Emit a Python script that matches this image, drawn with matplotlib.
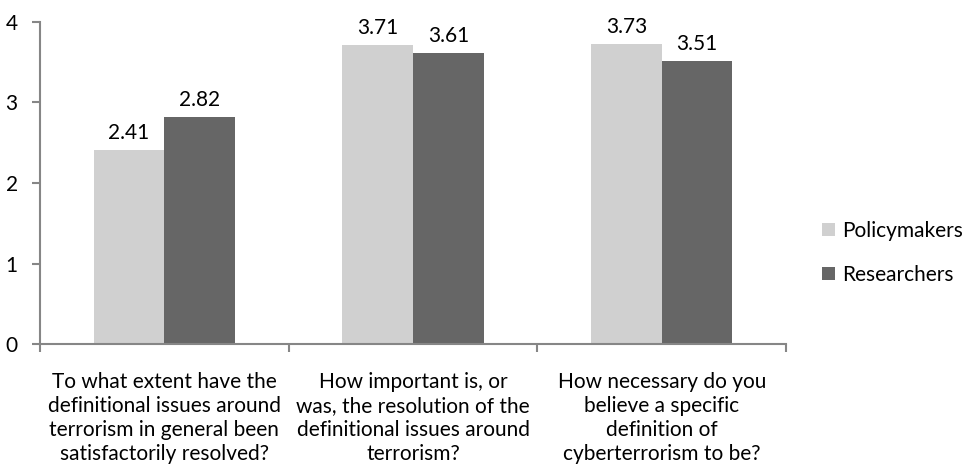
#!/usr/bin/env python3

import matplotlib
matplotlib.use('Agg')
import matplotlib.pyplot as plt
import numpy as np

questions = [
    'To what extent have the\ndefinitional issues around\nterrorism in general been\nsatisfactorily resolved?',
    'How important is, or\nwas, the resolution of the\ndefinitional issues around\nterrorism?',
    'How necessary do you\nbelieve a specific\ndefinition of\ncyberterrorism to be?',
]
policymakers = [2.41, 3.71, 3.73]
researchers = [2.82, 3.61, 3.51]
y_ticks = [0, 1, 2, 3, 4]

plt.rcParams['font.family'] = ['Lato', 'DejaVu Sans']

fig = plt.figure(figsize=(9.66, 4.73), dpi=100)
ax = fig.add_axes([0.0414, 0.2727, 0.7723, 0.6808])

x = np.arange(len(questions))
w = 0.284
axis_col = '#868686'
fs = 15

b1 = ax.bar(x - w / 2, policymakers, w, color='#d0d0d0', label='Policymakers')
b2 = ax.bar(x + w / 2, researchers, w, color='#666666', label='Researchers')

# value labels above each bar
for bars in (b1, b2):
    for r in bars:
        ax.annotate('%.2f' % r.get_height(), (r.get_x() + r.get_width() / 2, r.get_height()),
                    xytext=(0, 5), textcoords='offset points', ha='center', va='bottom',
                    fontsize=fs, color='#000000')

ax.set_xlim(-0.5, 2.5)
ax.set_ylim(0, 4)
ax.set_yticks(y_ticks)
ax.tick_params(axis='y', direction='out', length=6, width=1.5, color=axis_col,
               labelsize=fs, pad=10)

# category separators as major ticks, question text as minor tick labels
ax.set_xticks([-0.5, 0.5, 1.5, 2.5])
ax.set_xticklabels([])
ax.tick_params(axis='x', which='major', direction='out', length=6, width=1.5, color=axis_col)
ax.set_xticks(x, minor=True)
ax.set_xticklabels(questions, minor=True, fontsize=fs, linespacing=1.26)
ax.tick_params(axis='x', which='minor', length=0, pad=20)

for s in ('top', 'right'):
    ax.spines[s].set_visible(False)
for s in ('left', 'bottom'):
    ax.spines[s].set_color(axis_col)
    ax.spines[s].set_linewidth(1.5)

fig.legend(handles=[b1, b2], loc='center left', bbox_to_anchor=(0.851, 0.466),
           frameon=False, fontsize=fs, handlelength=0.6, handleheight=0.6,
           handletextpad=0.35, labelspacing=1.15, borderaxespad=0, borderpad=0)

plt.savefig('out.png', dpi=100)
